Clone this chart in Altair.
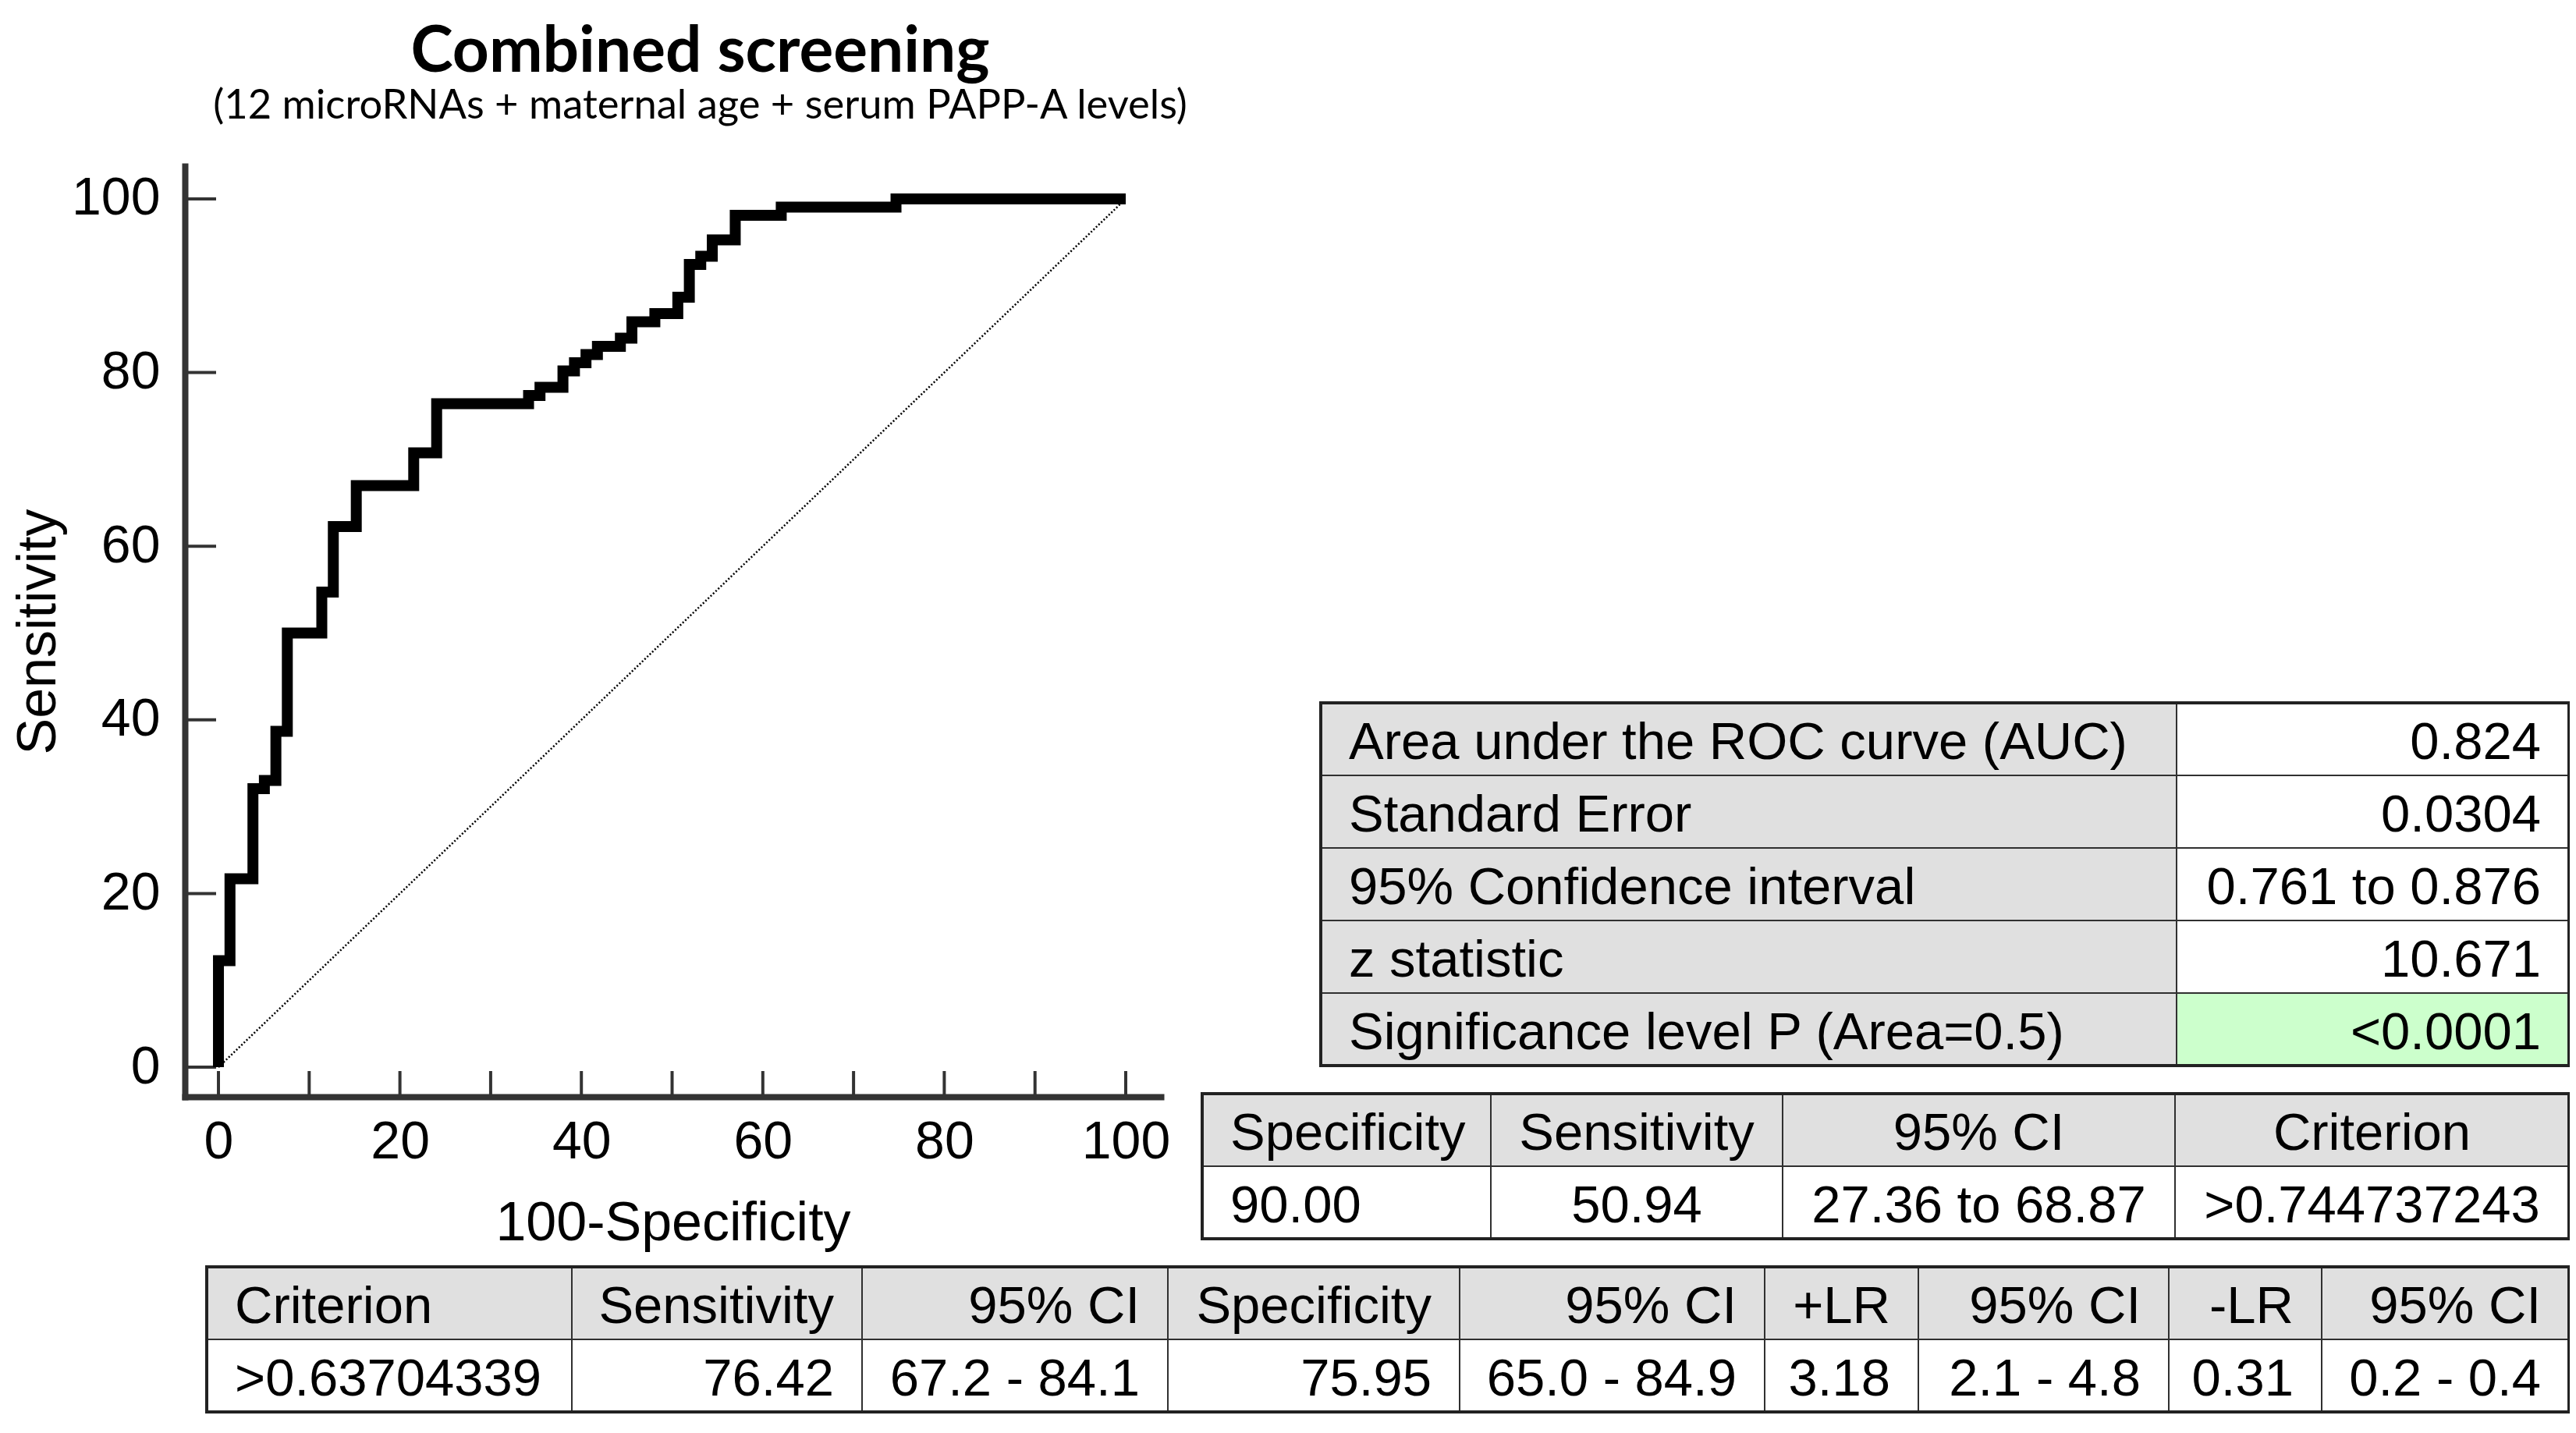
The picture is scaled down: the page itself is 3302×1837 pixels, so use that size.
import altair as alt
import pandas as pd

# ---------------- data ----------------
title_text = "Combined screening"
subtitle_text = "(12 microRNAs + maternal age + serum PAPP-A levels)"
x_title = "100-Specificity"
y_title = "Sensitivity"

# ROC curve corner points (100-Specificity, Sensitivity), drawn as step-after
roc_x = [0, 0, 1.27, 3.80, 5.06, 6.33, 7.59, 11.39, 12.66, 15.19, 21.52, 24.05,
         34.18, 35.44, 37.97, 39.24, 40.51, 41.77, 44.30, 45.57, 48.10, 50.63,
         51.90, 53.16, 54.43, 56.96, 62.03, 74.68, 100]
roc_y = [0, 12.26, 21.70, 32.08, 33.02, 38.68, 50.00, 54.72, 62.26, 66.98, 70.75, 76.42,
         77.36, 78.30, 80.19, 81.13, 82.08, 83.02, 83.96, 85.85, 86.79, 88.68,
         92.45, 93.40, 95.28, 98.11, 99.06, 100, 100]
diag_x = [0, 100]
diag_y = [0, 100]
x_tick_values = [0, 10, 20, 30, 40, 50, 60, 70, 80, 90, 100]
x_label_values = [0, 20, 40, 60, 80, 100]
y_tick_values = [0, 20, 40, 60, 80, 100]

t1_labels = ["Area under the ROC curve (AUC)", "Standard Error", "95% Confidence interval",
             "z statistic", "Significance level P (Area=0.5)"]
t1_values = ["0.824", "0.0304", "0.761 to 0.876", "10.671", "<0.0001"]

t2_header = ["Specificity", "Sensitivity", "95% CI", "Criterion"]
t2_values = ["90.00", "50.94", "27.36 to 68.87", ">0.744737243"]

t3_header = ["Criterion", "Sensitivity", "95% CI", "Specificity", "95% CI", "+LR", "95% CI", "-LR", "95% CI"]
t3_values = [">0.63704339", "76.42", "67.2 - 84.1", "75.95", "65.0 - 84.9", "3.18", "2.1 - 4.8", "0.31", "0.2 - 0.4"]

# ---------------- layout / style ----------------
PAGE_W, PAGE_H = 3302, 1837
VIEW_L, VIEW_T, VIEW_R, VIEW_B = 237, 213, 1488, 1406
W = VIEW_R - VIEW_L
H = VIEW_B - VIEW_T
AX = "#333333"
FONT = "Liberation Sans"
TFONT = "Lato"
GRAY = "#e0e0e0"
GREEN = "#ccffcc"
TXT_SIZE = 67
PAD = 36

T1 = dict(left=1693, top=901, col_w=[1097, 503], row_h=93)
T2 = dict(left=1541, top=1402, col_w=[370, 374, 503, 505], row_h=93)
T3 = dict(left=265, top=1624, col_w=[468, 372, 392, 374, 391, 197, 321, 196, 317], row_h=93)

xs = alt.Scale(domain=[-3.70, 103.87], nice=False, zero=False)
ys = alt.Scale(domain=[-3.41, 103.77], nice=False, zero=False)

xaxis = alt.Axis(values=x_label_values, title=x_title, ticks=False, tickSize=0,
                 domainColor=AX, domainWidth=8, domainCap="square",
                 labelFont=FONT, labelFontSize=68, labelColor="black", labelPadding=24,
                 labelFlush=False, labelOverlap=False,
                 titleFont=FONT, titleFontSize=70, titleFontWeight="normal", titleColor="black",
                 titlePadding=36, grid=False)
yaxis = alt.Axis(values=y_tick_values, title=y_title, ticks=False, tickSize=0,
                 domainColor=AX, domainWidth=8, domainCap="square",
                 labelFont=FONT, labelFontSize=68, labelColor="black", labelPadding=32,
                 labelFlush=False, labelOverlap=False,
                 titleFont=FONT, titleFontSize=70, titleFontWeight="normal", titleColor="black",
                 titlePadding=6, grid=False)

roc_df = pd.DataFrame({"x": roc_x, "y": roc_y, "i": list(range(len(roc_x)))})
diag_df = pd.DataFrame({"x": diag_x, "y": diag_y, "i": [0, 1]})

curve = alt.Chart(roc_df).mark_line(interpolate="step-after", color="black", strokeWidth=14,
                                    strokeJoin="miter", strokeCap="butt").encode(
    x=alt.X("x:Q", scale=xs, axis=xaxis),
    y=alt.Y("y:Q", scale=ys, axis=yaxis),
    order="i:Q")
diag = alt.Chart(diag_df).mark_line(color="black", strokeWidth=2.5, strokeDash=[2, 2.5]).encode(
    x=alt.X("x:Q", scale=xs, axis=xaxis),
    y=alt.Y("y:Q", scale=ys, axis=yaxis),
    order="i:Q")
xticks = alt.Chart(pd.DataFrame({"x": x_tick_values})).mark_rule(color=AX, strokeWidth=4).encode(
    x=alt.X("x:Q", scale=xs, axis=xaxis),
    y=alt.value(H), y2=alt.value(H - 33))
yticks = alt.Chart(pd.DataFrame({"y": y_tick_values})).mark_rule(color=AX, strokeWidth=4).encode(
    y=alt.Y("y:Q", scale=ys, axis=yaxis),
    x=alt.value(0), x2=alt.value(40))

roc = alt.layer(diag, xticks, yticks, curve)


def table_layer(rows, aligns, fills, layout):
    col_w = layout["col_w"]
    row_h = layout["row_h"]
    edges = [0]
    for w in col_w:
        edges.append(edges[-1] + w)
    total = edges[-1]
    nrows = len(rows)
    recs = []
    for r, row in enumerate(rows):
        for c, txt in enumerate(row):
            a = aligns[c]
            if a == "left":
                tx = edges[c]
            elif a == "right":
                tx = edges[c + 1]
            else:
                tx = (edges[c] + edges[c + 1]) / 2
            recs.append(dict(x0=edges[c], x1=edges[c + 1], r0=r, r1=r + 1, ym=r + 0.5,
                             text=txt, fill=fills[r][c], align=a, tx=tx))
    df = pd.DataFrame(recs)
    sx = alt.Scale(domain=[0, total], range=[layout["left"] - VIEW_L, layout["left"] - VIEW_L + total],
                   nice=False, zero=False)
    sy = alt.Scale(domain=[0, nrows], range=[layout["top"] - VIEW_T, layout["top"] - VIEW_T + nrows * row_h],
                   nice=False, zero=False)
    cells = alt.Chart(df).mark_rect(stroke="#303030", strokeWidth=2).encode(
        x=alt.X("x0:Q", scale=sx, axis=None), x2="x1:Q",
        y=alt.Y("r0:Q", scale=sy, axis=None), y2="r1:Q",
        fill=alt.Fill("fill:N", scale=None))
    outer = alt.Chart(pd.DataFrame([dict(x0=0, x1=total, r0=0, r1=nrows)])).mark_rect(
        filled=False, stroke="#222222", strokeWidth=4).encode(
        x=alt.X("x0:Q", scale=sx, axis=None), x2="x1:Q",
        y=alt.Y("r0:Q", scale=sy, axis=None), y2="r1:Q")
    layers = [cells, outer]
    for a, dx in (("left", PAD), ("center", 0), ("right", -PAD)):
        sub = df[df["align"] == a]
        if len(sub) == 0:
            continue
        layers.append(alt.Chart(sub).mark_text(align=a, baseline="middle", dx=dx, dy=5, font=FONT,
                                               fontSize=TXT_SIZE, color="black").encode(
            x=alt.X("tx:Q", scale=sx, axis=None),
            y=alt.Y("ym:Q", scale=sy, axis=None),
            text="text:N"))
    return alt.layer(*layers)


t1_rows = [[l, v] for l, v in zip(t1_labels, t1_values)]
t1_fills = [[GRAY, "white"] for _ in t1_rows]
t1_fills[-1][1] = GREEN
table1 = table_layer(t1_rows, ["left", "right"], t1_fills, T1)

table2 = table_layer([t2_header, t2_values], ["left", "center", "center", "center"],
                     [[GRAY] * 4, ["white"] * 4], T2)

table3 = table_layer([t3_header, t3_values], ["left"] + ["right"] * 8,
                     [[GRAY] * 9, ["white"] * 9], T3)

chart = alt.layer(roc, table1, table2, table3).resolve_scale(
    x="independent", y="independent"
).properties(
    width=W, height=H,
    padding={"left": VIEW_L - 8, "top": VIEW_T - 8, "right": PAGE_W - 8 - VIEW_R, "bottom": PAGE_H - 8 - VIEW_B},
    autosize=alt.AutoSizeParams(type="none"),
    title=alt.TitleParams(text=title_text, subtitle=subtitle_text, anchor="middle", frame="group",
                          dx=35, font=TFONT, fontSize=82, fontWeight="bold", color="black",
                          subtitleFont=TFONT, subtitleFontSize=52.5, subtitleColor="black",
                          subtitlePadding=2, offset=50),
    background="white",
).configure_view(stroke=None)

chart.save("out.html", embed_options={"renderer": "svg", "actions": False})
